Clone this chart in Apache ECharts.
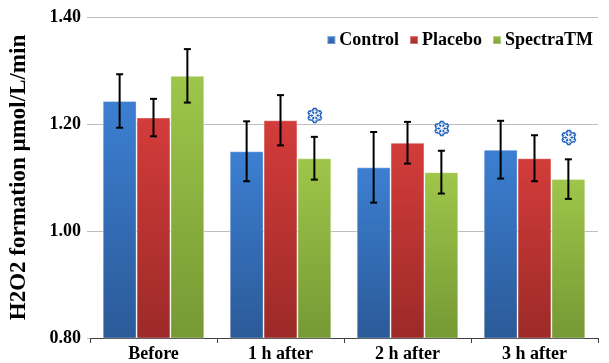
<!DOCTYPE html>
<html><head><meta charset="utf-8">
<script src="https://cdn.jsdelivr.net/npm/echarts@6/dist/echarts.min.js"></script>
<style>html,body{margin:0;padding:0;background:#fff}#c{width:609px;height:363px}</style>
</head><body><div id="c"></div>
<script>
const categories = ['Before', '1 h after', '2 h after', '3 h after'];
const seriesNames = ['Control', 'Placebo', 'SpectraTM'];
const controlValues = [1.243, 1.149, 1.119, 1.152];
const controlErrors = [0.050, 0.056, 0.066, 0.054];
const placeboValues = [1.212, 1.207, 1.165, 1.136];
const placeboErrors = [0.035, 0.047, 0.039, 0.043];
const spectraValues = [1.290, 1.136, 1.110, 1.097];
const spectraErrors = [0.050, 0.040, 0.040, 0.037];
const spectraSignificant = [false, true, true, true];
const yMin = 0.80, yMax = 1.40, yStep = 0.20;
const yAxisTitle = 'H2O2 formation µmol/L/min';

const FONT = '"Liberation Serif", "Times New Roman", serif';
const palettes = [
  ['#3C7FD2', '#2B5A98'],
  ['#D33C3A', '#9C2A28'],
  ['#9EC64A', '#769934']
];
const valueSets = [controlValues, placeboValues, spectraValues];
const errorSets = [controlErrors, placeboErrors, spectraErrors];
const CAT_GAP = 0.2;

function grad(p) {
  return new echarts.graphic.LinearGradient(0, 0, 0, 1, [
    { offset: 0, color: p[0] }, { offset: 1, color: p[1] }
  ]);
}

const barSeries = seriesNames.map((name, i) => ({
  name, type: 'bar',
  data: valueSets[i],
  barGap: '0%',
  barCategoryGap: (CAT_GAP * 100) + '%',
  itemStyle: { color: grad(palettes[i]), borderColor: 'rgba(255,255,255,0.35)', borderWidth: 1 },
  emphasis: { disabled: true },
  z: 2
}));

const errSeries = seriesNames.map((name, i) => ({
  type: 'custom',
  name: name + '_err',
  z: 5,
  silent: true,
  data: valueSets[i].map((v, k) => [k, v, errorSets[i][k], (i === 2 && spectraSignificant[k]) ? 1 : 0]),
  encode: { x: 0, y: [1] },
  renderItem: function (params, api) {
    const k = api.value(0), v = api.value(1), e = api.value(2), sig = api.value(3);
    const bandW = api.size([1, 0])[0];
    const barW = bandW * (1 - CAT_GAP) / 3;
    const cx = api.coord([k, v])[0] + (i - 1) * barW;
    const yTop = api.coord([k, v + e])[1];
    const yBot = api.coord([k, v - e])[1];
    const cap = 3.5;
    const st = { stroke: '#000', lineWidth: 2 };
    const children = [
      { type: 'line', shape: { x1: cx, y1: yTop, x2: cx, y2: yBot }, style: st },
      { type: 'line', shape: { x1: cx - cap, y1: yTop, x2: cx + cap, y2: yTop }, style: st },
      { type: 'line', shape: { x1: cx - cap, y1: yBot, x2: cx + cap, y2: yBot }, style: st }
    ];
    if (sig) {
      children.push({
        type: 'text',
        style: {
          x: cx + 0.5, y: yTop - 20, text: '❄', fontSize: 18, fontWeight: 'bold', fontFamily: '"DejaVu Sans"',
          fill: '#ffffff', stroke: '#1F5EBB', lineWidth: 2.4,
          align: 'center', verticalAlign: 'middle'
        }
      });
    }
    return { type: 'group', children };
  }
}));

const chart = echarts.init(document.getElementById('c'), null, { renderer: 'canvas' });
chart.setOption({
  animation: false,
  backgroundColor: '#fff',
  grid: { left: 90, right: 11, top: 17, bottom: 25, containLabel: false },
  legend: {
    data: seriesNames,
    right: 11, top: 26,
    itemWidth: 8, itemHeight: 8, itemGap: 10,
    icon: 'rect',
    textStyle: { fontFamily: FONT, fontWeight: 'bold', fontSize: 18, color: '#000', padding: [0, 0, 0, -1] }
  },
  xAxis: {
    type: 'category',
    data: categories,
    axisLine: { show: true, lineStyle: { color: '#404040', width: 1 } },
    axisTick: { show: true, length: 5, lineStyle: { color: '#404040' } },
    axisLabel: { fontFamily: FONT, fontWeight: 'bold', fontSize: 18, color: '#000', margin: 7 }
  },
  yAxis: {
    type: 'value',
    min: yMin, max: yMax, interval: yStep,
    name: yAxisTitle,
    nameLocation: 'middle',
    nameGap: 59,
    nameTextStyle: { fontFamily: FONT, fontWeight: 'bold', fontSize: 23, color: '#000' },
    axisLine: { show: false },
    axisTick: { show: true, length: 3, lineStyle: { color: '#bfbfbf' } },
    splitLine: { show: true, lineStyle: { color: '#bfbfbf', width: 1 } },
    axisLabel: { fontFamily: FONT, fontWeight: 'bold', fontSize: 18, color: '#000', margin: 9,
      formatter: v => v.toFixed(2) }
  },
  series: [...barSeries, ...errSeries]
});
</script>
</body></html>
